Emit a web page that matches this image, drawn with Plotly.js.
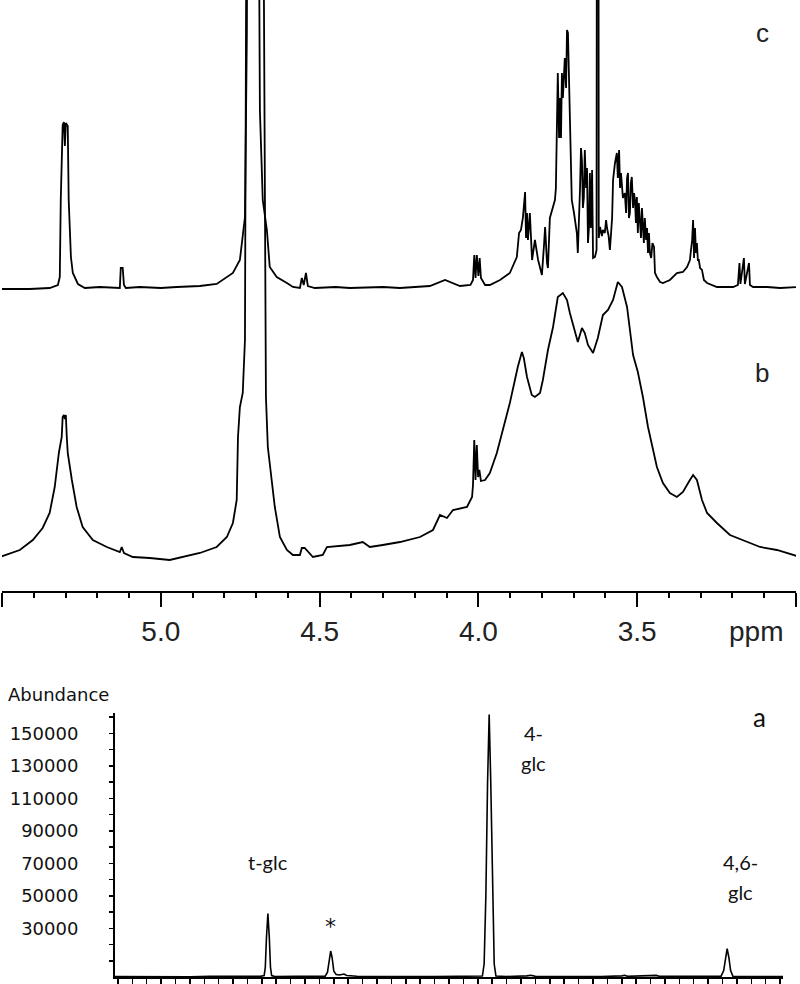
<!DOCTYPE html>
<html>
<head>
<meta charset="utf-8">
<script src="https://cdn.plot.ly/plotly-3.0.1.min.js"></script>
<style>
  html, body { margin: 0; padding: 0; background: #fff; }
  #chart { width: 800px; height: 984px; }
</style>
</head>
<body>
<div id="chart"></div>
<script>
// 1H NMR, spectrum c (chemical shift in ppm, intensity in a.u.)
const cPpm = [5.507,5.413,5.350,5.324,5.318,5.315,5.309,5.305,5.302,5.299,5.293,5.290,5.283,5.277,5.261,5.239,5.192,5.150,
              5.129,5.126,5.120,5.116,5.110,5.066,5.000,4.950,4.877,4.824,4.773,4.751,4.742,4.735,4.729,4.723,4.710,4.698,
              4.691,4.688,4.679,4.666,4.657,4.635,4.603,4.584,4.562,4.556,4.550,4.543,4.537,4.515,4.450,4.405,4.300,4.247,
              4.153,4.105,4.058,4.025,4.017,4.013,4.009,4.005,4.000,3.996,3.992,3.985,3.979,3.964,3.932,3.901,3.879,3.872,
              3.866,3.860,3.853,3.850,3.847,3.844,3.838,3.831,3.822,3.812,3.806,3.800,3.793,3.790,3.784,3.781,3.775,3.768,
              3.759,3.756,3.753,3.750,3.746,3.743,3.740,3.737,3.734,3.728,3.724,3.721,3.718,3.712,3.709,3.706,3.699,3.693,
              3.690,3.687,3.684,3.680,3.677,3.674,3.671,3.668,3.665,3.661,3.658,3.655,3.652,3.649,3.646,3.642,3.639,3.633,
              3.628,3.6245,3.621,3.617,3.611,3.608,3.602,3.598,3.595,3.590,3.586,3.579,3.576,3.570,3.564,3.561,3.557,3.554,
              3.551,3.548,3.545,3.539,3.535,3.532,3.529,3.526,3.523,3.520,3.517,3.513,3.510,3.507,3.504,3.501,3.498,3.495,
              3.491,3.488,3.485,3.482,3.479,3.476,3.472,3.469,3.466,3.463,3.460,3.456,3.452,3.447,3.444,3.438,3.428,3.419,
              3.397,3.375,3.356,3.343,3.334,3.330,3.327,3.324,3.321,3.318,3.315,3.312,3.309,3.306,3.302,3.296,3.290,3.280,
              3.249,3.198,3.183,3.178,3.175,3.164,3.161,3.148,3.145,3.135,3.091,3.050,2.987];
const cInt = [-1,-1,0,3,11,88,163,166,142,165,162,88,31,15,4,0,1,0,
              0,20,20,3,0,1,0,1,2,4,15,28,55,71,255,800,2000,800,
              320,178,88,58,21,11,5,1,0,10,3,15,2,0,1,0,1,0,
              2,8,2,3,8,33,10,33,12,30,10,6,3,3,8,15,31,55,
              58,70,96,50,75,48,75,28,48,28,21,13,45,61,25,20,70,78,
              88,100,191,215,150,190,150,215,190,230,200,258,255,181,120,88,75,60,
              55,35,60,100,140,128,80,90,138,100,120,45,60,115,60,118,30,31,
              38,1500,50,61,52,58,55,68,60,52,38,70,108,125,135,110,138,100,
              115,101,90,95,75,110,115,70,75,105,111,80,95,88,65,91,55,85,
              68,50,80,58,45,70,48,60,35,55,35,30,45,41,15,11,6,5,
              8,15,16,21,28,40,48,68,30,60,35,45,28,28,20,18,8,5,
              1,1,3,25,4,30,4,25,3,1,1,0,1];

// 1H NMR, spectrum b
const bPpm = [5.507,5.444,5.403,5.372,5.350,5.334,5.321,5.312,5.309,5.305,5.302,5.299,5.296,5.293,5.280,5.265,5.246,5.214,
              5.170,5.129,5.123,5.116,5.088,5.035,4.972,4.931,4.877,4.824,4.792,4.773,4.761,4.757,4.751,4.742,4.735,4.729,
              4.704,4.679,4.669,4.663,4.650,4.641,4.625,4.603,4.584,4.562,4.556,4.547,4.521,4.490,4.477,4.405,4.364,4.342,
              4.301,4.247,4.184,4.143,4.121,4.099,4.080,4.036,4.020,4.017,4.013,4.009,4.005,4.001,3.997,3.992,3.979,3.964,
              3.942,3.923,3.901,3.885,3.876,3.863,3.857,3.847,3.832,3.822,3.806,3.797,3.781,3.765,3.750,3.734,3.721,3.712,
              3.696,3.687,3.674,3.665,3.655,3.639,3.624,3.608,3.592,3.576,3.561,3.548,3.532,3.523,3.513,3.498,3.482,3.466,
              3.450,3.438,3.419,3.397,3.375,3.356,3.334,3.324,3.312,3.296,3.280,3.249,3.208,3.167,3.113,3.060,3.009,2.987];
const bInt = [8,15,25,37,52,78,112,128,148,150,146,150,128,112,85,58,38,25,
              18,13,18,12,8,7,5,8,12,18,28,42,65,128,158,172,225,800,
              3000,800,168,118,85,58,28,15,10,10,17,17,8,10,18,20,23,18,
              20,23,28,35,50,47,55,58,68,80,125,85,120,88,95,84,85,92,
              112,135,162,185,198,213,207,188,170,168,172,185,215,238,268,272,265,252,
              235,223,237,232,220,212,227,250,255,265,283,278,258,237,210,193,168,138,
              115,98,82,72,68,73,85,90,85,65,52,42,30,25,18,15,10,8];

// GC-MS chromatogram a (retention time in min, abundance)
const gcTime = [9.9,10.5,11.2,11.8,12.5,13.2,13.8,14.5,14.95,15.08,15.12,15.16,15.21,15.26,15.30,15.34,15.45,
                16.2,16.8,17.20,17.28,17.34,17.39,17.44,17.50,17.58,17.70,17.85,17.95,18.3,18.9,19.6,20.3,
                21.0,21.7,22.3,22.66,22.72,22.78,22.84,22.895,22.95,23.01,23.07,23.13,23.5,24.2,24.35,24.5,
                25.2,26.0,26.8,27.5,27.6,27.7,28.6,28.7,28.8,29.6,30.4,30.95,31.04,31.10,31.16,31.22,31.28,
                31.36,31.8,32.5,33.1];
const gcAbund = [300,200,400,300,200,400,300,300,400,900,6000,24000,39000,24000,6000,900,300,
                 400,300,500,3000,12000,16000,12000,3500,1500,1200,1800,900,500,300,400,300,
                 300,400,300,600,8000,50000,120000,161500,120000,50000,8000,600,300,700,1100,400,
                 300,400,300,700,1100,400,800,1000,400,300,300,500,4000,12000,17500,12000,4000,
                 500,300,300,300];

const ppmTicks = [5.5, 5.0, 4.5, 4.0, 3.5, 3.0];
const ppmTickText = ['', '5.0', '4.5', '4.0', '3.5', ''];
const abundTicks = [10000,20000,30000,40000,50000,60000,70000,80000,90000,100000,
                    110000,120000,130000,140000,150000,160000];
const abundTickText = ['','','30000','','50000','','70000','','90000','',
                       '110000','','130000','','150000',''];

function drawChart() {
    const chartDiv = document.getElementById("chart");
    if (!chartDiv) return;

    const H = 984, W = 800;
    const nmrBottom = 1 - 591 / H;
    const black = { color: '#000', width: 1.8 };

    const traces = [
        { x: bPpm, y: bInt, xaxis: 'x', yaxis: 'y', mode: 'lines', line: black, hoverinfo: 'skip' },
        { x: cPpm, y: cInt, xaxis: 'x', yaxis: 'y2', mode: 'lines', line: black, hoverinfo: 'skip' },
        { x: gcTime, y: gcAbund, xaxis: 'x2', yaxis: 'y3', mode: 'lines',
          line: { color: '#000', width: 1.6 }, hoverinfo: 'skip' }
    ];

    const arial = '"Liberation Sans", Arial, sans-serif';
    const labelFont = { family: 'Lato, "Open Sans", sans-serif', size: 20, color: '#111' };

    // paper-referenced text, explicit anchors so 'auto' does not shift it
    function paperText(text, px, py, font, xanchor) {
        return { text: text, xref: 'paper', yref: 'paper', x: px / W, y: 1 - py / H,
                 xanchor: xanchor || 'center', yanchor: 'middle', showarrow: false, font: font };
    }
    function peakText(text, t, ab, font) {
        return { text: text, xref: 'x2', yref: 'y3', x: t, y: ab,
                 xanchor: 'center', yanchor: 'middle', showarrow: false, font: font || labelFont };
    }

    const layout = {
        width: W, height: H,
        margin: { l: 0, r: 0, t: 0, b: 0 },
        paper_bgcolor: '#fff',
        plot_bgcolor: 'rgba(0,0,0,0)',
        showlegend: false,
        xaxis: {
            domain: [2 / W, 796 / W],
            range: [5.5, 3.0],
            anchor: 'y',
            showline: true, linecolor: '#000', linewidth: 2,
            ticks: 'outside', ticklen: 14, tickwidth: 2, tickcolor: '#000',
            tickvals: ppmTicks, ticktext: ppmTickText,
            tickfont: { family: arial, size: 28, color: '#222' },
            minor: { dtick: 0.1, tick0: 0, ticks: 'outside', ticklen: 5, tickwidth: 2, tickcolor: '#000' },
            showgrid: false, zeroline: false
        },
        yaxis: { domain: [nmrBottom, 1], range: [-26, 565], visible: false, anchor: 'x' },
        yaxis2: { overlaying: 'y', range: [-303, 288], visible: false, anchor: 'x' },
        xaxis2: {
            domain: [115 / W, 783 / W],
            range: [9.9, 33.1],
            anchor: 'y3',
            showline: true, linecolor: '#000', linewidth: 2,
            ticks: 'outside', ticklen: 8, tickwidth: 1.5, tickcolor: '#000',
            tick0: 10, dtick: 0.5,
            showticklabels: false, showgrid: false, zeroline: false
        },
        yaxis3: {
            domain: [1 - 977 / H, 1 - 713 / H],
            range: [0, 162500],
            anchor: 'x2',
            showline: true, linecolor: '#000', linewidth: 2,
            ticks: 'outside', ticklen: 4, tickwidth: 1.5, tickcolor: '#000',
            tickvals: abundTicks, ticktext: abundTickText,
            ticklabelstandoff: 27,
            tickfont: { family: '"DejaVu Sans", sans-serif', size: 18, color: '#111' },
            showgrid: false, zeroline: false
        },
        annotations: [
            paperText('c', 762, 33, { family: arial, size: 26, color: '#222' }),
            paperText('b', 762, 373, { family: arial, size: 26, color: '#222' }),
            paperText('ppm', 756, 631, { family: arial, size: 28, color: '#222' }),
            paperText('Abundance', 6, 694, { family: '"DejaVu Sans", sans-serif', size: 18, color: '#111' }, 'left'),
            peakText('a', 32.3, 160300, { family: 'Lato, "Open Sans", sans-serif', size: 26, color: '#111' }),
            peakText('4-', 24.42, 150400),
            peakText('glc', 24.42, 132000),
            peakText('t-glc', 15.21, 71000),
            peakText('4,6-', 31.64, 71000),
            peakText('glc', 31.64, 52600),
            peakText('*', 17.37, 31000, { family: '"DejaVu Sans", sans-serif', size: 22, color: '#111' })
        ]
    };

    Plotly.newPlot(chartDiv, traces, layout, { staticPlot: true, displayModeBar: false });
}

window.addEventListener("load", drawChart);
</script>
</body>
</html>
